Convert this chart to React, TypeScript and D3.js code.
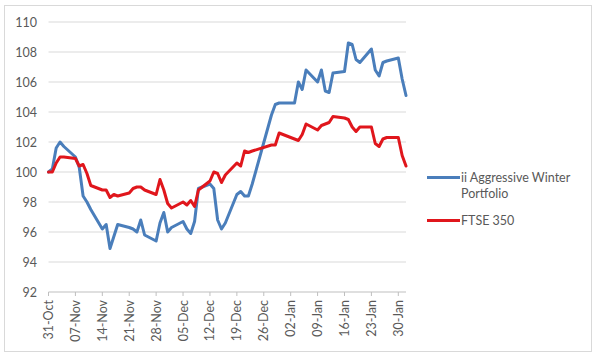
import React from "react";
import * as d3 from "d3";

// trading days, 31 Oct 2016 - 1 Feb 2017
const dates = [
	"2016-10-31", "2016-11-01", "2016-11-02", "2016-11-03", "2016-11-04",
	"2016-11-07", "2016-11-08", "2016-11-09", "2016-11-10", "2016-11-11",
	"2016-11-14", "2016-11-15", "2016-11-16", "2016-11-17", "2016-11-18",
	"2016-11-21", "2016-11-22", "2016-11-23", "2016-11-24", "2016-11-25",
	"2016-11-28", "2016-11-29", "2016-11-30", "2016-12-01", "2016-12-02",
	"2016-12-05", "2016-12-06", "2016-12-07", "2016-12-08", "2016-12-09",
	"2016-12-12", "2016-12-13", "2016-12-14", "2016-12-15", "2016-12-16",
	"2016-12-19", "2016-12-20", "2016-12-21", "2016-12-22", "2016-12-23",
	"2016-12-28", "2016-12-29", "2016-12-30",
	"2017-01-03", "2017-01-04", "2017-01-05", "2017-01-06",
	"2017-01-09", "2017-01-10", "2017-01-11", "2017-01-12", "2017-01-13",
	"2017-01-16", "2017-01-17", "2017-01-18", "2017-01-19", "2017-01-20",
	"2017-01-23", "2017-01-24", "2017-01-25", "2017-01-26", "2017-01-27",
	"2017-01-30", "2017-01-31", "2017-02-01",
];

const aggressive = [
	100.0, 100.2, 101.6, 102.0, 101.7,
	101.0, 100.3, 98.4, 98.0, 97.5,
	96.2, 96.5, 94.9, 95.7, 96.5,
	96.3, 96.2, 96.0, 96.8, 95.8,
	95.4, 96.6, 97.3, 96.0, 96.3,
	96.7, 96.2, 95.9, 96.7, 98.9,
	99.2, 98.9, 96.8, 96.2, 96.6,
	98.5, 98.7, 98.4, 98.4, 99.2,
	103.8, 104.5, 104.6,
	104.6, 106.0, 105.5, 106.8,
	106.0, 106.8, 105.4, 105.3, 106.6,
	106.7, 108.6, 108.5, 107.5, 107.3,
	108.2, 106.8, 106.4, 107.3, 107.4,
	107.6, 106.2, 105.1,
];

const ftse350 = [
	100.0, 100.0, 100.6, 101.0, 101.0,
	100.9, 100.4, 100.5, 99.9, 99.1,
	98.8, 98.8, 98.3, 98.5, 98.4,
	98.6, 98.9, 99.0, 99.0, 98.8,
	98.5, 99.5, 98.8, 97.9, 97.6,
	98.0, 97.8, 98.1, 97.7, 98.8,
	99.4, 100.0, 99.9, 99.3, 99.8,
	100.6, 100.4, 101.4, 101.3, 101.4,
	101.8, 101.8, 102.6,
	102.2, 102.1, 102.5, 103.2,
	102.8, 103.1, 103.2, 103.3, 103.7,
	103.6, 103.5, 103.0, 102.7, 103.0,
	103.0, 101.9, 101.7, 102.2, 102.3,
	102.3, 101.1, 100.4,
];

const tickDates = [
	"2016-10-31", "2016-11-07", "2016-11-14", "2016-11-21", "2016-11-28",
	"2016-12-05", "2016-12-12", "2016-12-19", "2016-12-26", "2017-01-02",
	"2017-01-09", "2017-01-16", "2017-01-23", "2017-01-30",
];
const yTicks = [92, 94, 96, 98, 100, 102, 104, 106, 108, 110];

const seriesNames = ["ii Aggressive Winter Portfolio", "FTSE 350"];
const seriesColors = ["#4a7ebb", "#e0161c"];

const W = 600;
const H = 359;
const parse = d3.timeParse("%Y-%m-%d");
const fmt = d3.timeFormat("%d-%b");

export default function App() {
	const xs = dates.map((d) => parse(d) as Date);

	const x = d3
		.scaleTime()
		.domain([xs[0], xs[xs.length - 1]])
		.range([48.5, 406]);
	const y = d3.scaleLinear().domain([92, 110]).range([292, 22]);

	const line = d3
		.line<number>()
		.x((_, i) => x(xs[i]))
		.y((v) => y(v));

	const series = [aggressive, ftse350];
	const font = "Lato, 'Liberation Sans', sans-serif";

	return (
		<svg
			width={W}
			height={H}
			style={{ position: "absolute", left: 0, top: 0, background: "#fff" }}
			fontFamily={font}
		>
			<rect x={4.5} y={5.5} width={587} height={346} fill="#fff" stroke="#d9d9d9" />

			{/* gridlines */}
			{yTicks.map((t) => (
				<line
					key={t}
					x1={x.range()[0]}
					x2={x.range()[1]}
					y1={y(t)}
					y2={y(t)}
					stroke={t === 92 ? "#bfbfbf" : "#d9d9d9"}
					strokeWidth={1}
				/>
			))}
			{yTicks.map((t) => (
				<text key={"l" + t} x={37} y={y(t) + 4.5} textAnchor="end" fontSize={12.5} fill="#595959">
					{t}
				</text>
			))}

			{/* x axis ticks and labels */}
			{tickDates.map((d) => {
				const px = x(parse(d) as Date);
				return (
					<g key={d}>
						<line x1={px} x2={px} y1={292} y2={296} stroke="#bfbfbf" />
						<text
							transform={`translate(${px + 4.5},300) rotate(-90)`}
							textAnchor="end"
							fontSize={12.5}
							fill="#595959"
						>
							{fmt(parse(d) as Date)}
						</text>
					</g>
				);
			})}

			{series.map((s, i) => (
				<path
					key={i}
					d={line(s) || ""}
					fill="none"
					stroke={seriesColors[i]}
					strokeWidth={3}
					strokeLinejoin="round"
					strokeLinecap="round"
				/>
			))}

			{/* legend */}
			<line x1={427} x2={460} y1={177.5} y2={177.5} stroke={seriesColors[0]} strokeWidth={3} />
			<text x={461} y={182} fontSize={12.5} fill="#595959">ii Aggressive Winter</text>
			<text x={461} y={198} fontSize={12.5} fill="#595959">Portfolio</text>
			<line x1={427} x2={460} y1={220.5} y2={220.5} stroke={seriesColors[1]} strokeWidth={3} />
			<text x={461} y={225} fontSize={12.5} fill="#595959">{seriesNames[1]}</text>
		</svg>
	);
}
